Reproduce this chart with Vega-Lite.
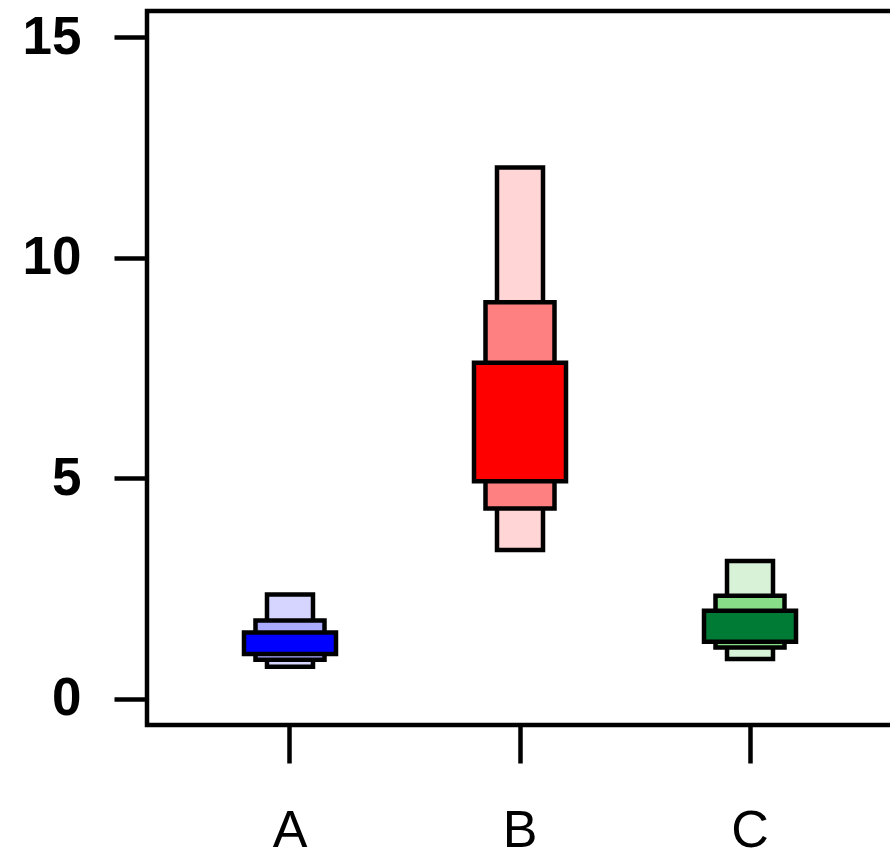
{
  "$schema": "https://vega.github.io/schema/vega-lite/v6.json",
  "autosize": {"type": "none"},
  "padding": {"left": 147, "top": 11, "right": 0, "bottom": 123},
  "width": 746,
  "height": 714,
  "background": "white",
  "config": {
    "view": {"stroke": "black", "strokeWidth": 4.5},
    "font": "Liberation Sans"
  },
  "data": {
    "values": [
      {"group": "A", "level": "outer", "box": "A outer", "lo": 0.72, "hi": 2.36},
      {"group": "A", "level": "middle", "box": "A middle", "lo": 0.88, "hi": 1.77},
      {"group": "A", "level": "inner", "box": "A inner", "lo": 1.01, "hi": 1.50},
      {"group": "B", "level": "outer", "box": "B outer", "lo": 3.37, "hi": 12.05},
      {"group": "B", "level": "middle", "box": "B middle", "lo": 4.31, "hi": 8.99},
      {"group": "B", "level": "inner", "box": "B inner", "lo": 4.93, "hi": 7.62},
      {"group": "C", "level": "outer", "box": "C outer", "lo": 0.90, "hi": 3.12},
      {"group": "C", "level": "middle", "box": "C middle", "lo": 1.16, "hi": 2.33},
      {"group": "C", "level": "inner", "box": "C inner", "lo": 1.29, "hi": 1.99}
    ]
  },
  "encoding": {
    "x": {
      "field": "group",
      "type": "nominal",
      "scale": {"type": "band", "domain": ["A", "B", "C"], "paddingInner": 0, "paddingOuter": 0.1217},
      "axis": {
        "title": null,
        "domain": false,
        "grid": false,
        "ticks": true,
        "tickSize": 38,
        "tickWidth": 4.5,
        "tickColor": "black",
        "labelAngle": 0,
        "labelFont": "Liberation Sans",
        "labelFontSize": 52,
        "labelFontWeight": "normal",
        "labelColor": "black",
        "labelPadding": 42
      }
    },
    "y": {
      "field": "lo",
      "type": "quantitative",
      "scale": {"domain": [-0.6, 15.6], "nice": false, "zero": false},
      "axis": {
        "title": null,
        "values": [0, 5, 10, 15],
        "domain": false,
        "grid": false,
        "tickSize": 33,
        "tickWidth": 4.5,
        "tickColor": "black",
        "labelFont": "Liberation Sans",
        "labelFontSize": 53,
        "labelFontWeight": "bold",
        "labelColor": "black",
        "labelPadding": 33
      }
    },
    "y2": {"field": "hi"},
    "color": {
      "field": "box",
      "type": "nominal",
      "scale": {
        "domain": ["A outer", "A middle", "A inner", "B outer", "B middle", "B inner", "C outer", "C middle", "C inner"],
        "range": ["#D5D5FF", "#AAAAFF", "#0000FF", "#FFD5D5", "#FF8080", "#FF0000", "#D8F2D8", "#88DD88", "#007B35"]
      },
      "legend": null
    }
  },
  "layer": [
    {
      "transform": [{"filter": "datum.level === 'outer'"}],
      "mark": {"type": "bar", "width": {"band": 0.2}, "stroke": "black", "strokeWidth": 4.5, "strokeJoin": "miter", "opacity": 1}
    },
    {
      "transform": [{"filter": "datum.level === 'middle'"}],
      "mark": {"type": "bar", "width": {"band": 0.3}, "stroke": "black", "strokeWidth": 4.5, "strokeJoin": "miter", "opacity": 1}
    },
    {
      "transform": [{"filter": "datum.level === 'inner'"}],
      "mark": {"type": "bar", "width": {"band": 0.4}, "stroke": "black", "strokeWidth": 4.5, "strokeJoin": "miter", "opacity": 1}
    }
  ]
}
